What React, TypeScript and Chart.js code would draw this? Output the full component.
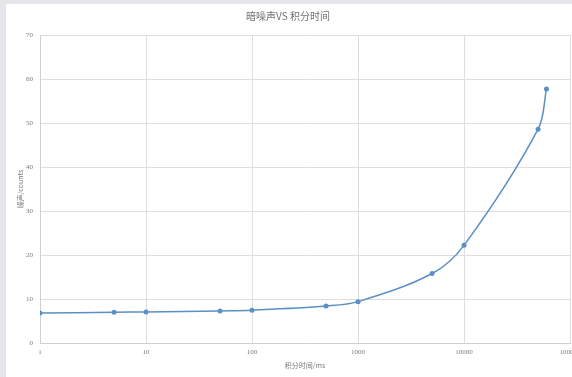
import React, { useEffect, useRef } from "react";
import { Chart, registerables } from "chart.js";

Chart.register(...registerables);

const chartTitle = "暗噪声VS 积分时间";
const xTitle = "积分时间/ms";
const yTitle = "噪声/counts";
const integrationTimes = [1, 5, 10, 50, 100, 500, 1000, 5000, 10000, 50000, 60000];
const noiseValues = [6.8, 7.0, 7.05, 7.3, 7.45, 8.4, 9.4, 15.8, 22.2, 48.6, 57.7];
const xTicks = [1, 10, 100, 1000, 10000, 100000];

export default function App() {
  const ref = useRef<HTMLCanvasElement | null>(null);

  useEffect(() => {
    if (!ref.current) return;
    const tickFont = { family: "'Liberation Serif', serif", size: 7 };
    const chart = new Chart(ref.current, {
      type: "line",
      data: {
        datasets: [
          {
            data: integrationTimes.map((x, i) => ({ x, y: noiseValues[i] })),
            borderColor: "#5b90c4",
            backgroundColor: "#5b90c4",
            borderWidth: 1.5,
            pointRadius: 2.5,
            pointBorderWidth: 0,
            tension: 0.35,
          },
        ],
      },
      options: {
        responsive: false,
        animation: false,
        layout: { padding: { left: 0, right: 36, top: 0, bottom: 0 } },
        plugins: {
          legend: { display: false },
          tooltip: { enabled: false },
          title: {
            display: true,
            text: chartTitle,
            color: "#707070",
            font: { family: "'Noto Sans CJK SC', sans-serif", size: 10, weight: "normal" },
            padding: { top: 6, bottom: 13 },
          },
        },
        scales: {
          x: {
            type: "logarithmic",
            min: 1,
            max: 100000,
            afterBuildTicks: (s: any) => {
              s.ticks = xTicks.map((v) => ({ value: v }));
            },
            afterFit: (s: any) => {
              s.height = 34;
            },
            ticks: {
              color: "#7a7a7a",
              font: tickFont,
              padding: 5,
              maxRotation: 0,
              autoSkip: false,
              callback: (v: any) => String(v),
            },
            grid: { color: "#dedede", drawTicks: false, lineWidth: 1 },
            border: { color: "#d0d0d0" },
            title: {
              display: true,
              text: xTitle,
              color: "#7a7a7a",
              font: { family: "'Noto Sans CJK SC', sans-serif", size: 7 },
              padding: { top: 2, bottom: 7 },
            },
          },
          y: {
            min: 0,
            max: 70,
            afterFit: (s: any) => {
              s.width = 34;
            },
            ticks: { stepSize: 10, color: "#7a7a7a", font: tickFont, padding: 7 },
            grid: { color: "#dedede", drawTicks: false, lineWidth: 1 },
            border: { color: "#d0d0d0" },
            title: {
              display: true,
              text: yTitle,
              color: "#7a7a7a",
              font: { family: "'Noto Sans CJK SC', sans-serif", size: 7 },
              padding: { top: 10, bottom: 0 },
            },
          },
        },
      },
    } as any);
    return () => chart.destroy();
  }, []);

  return (
    <div
      style={{
        position: "fixed",
        left: 0,
        top: 0,
        width: 572,
        height: 377,
        background: "#e4e6e9",
        overflow: "hidden",
      }}
    >
      <div
        style={{
          position: "absolute",
          left: 6,
          top: 4,
          width: 566,
          height: 373,
          background: "#ffffff",
          overflow: "hidden",
        }}
      >
        <canvas ref={ref} width={600} height={373} style={{ display: "block", width: 600, height: 373 }} />
      </div>
    </div>
  );
}
